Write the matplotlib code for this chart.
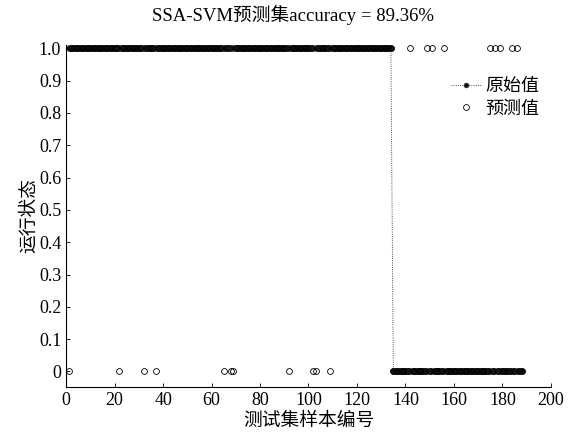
import numpy as np
import matplotlib.pyplot as plt

plt.rcParams['font.family'] = ['Liberation Serif', 'Noto Sans CJK SC']
plt.rcParams['axes.unicode_minus'] = False

# test set: samples 1..134 are state 1, 135..188 are state 0
n_samples = 188
n_ones = 134
# samples where the SSA-SVM prediction is wrong
wrong_as_0 = [1, 22, 32, 37, 65, 68, 69, 92, 102, 103, 109]
wrong_as_1 = [142, 149, 151, 156, 175, 177, 179, 184, 186]

idx = np.arange(1, n_samples + 1)
actual = np.where(idx <= n_ones, 1, 0)
pred = actual.copy()
pred[np.array(wrong_as_0) - 1] = 0
pred[np.array(wrong_as_1) - 1] = 1
acc = np.mean(pred == actual) * 100

fig = plt.figure(figsize=(5.75, 4.33), dpi=100)
ax = fig.add_axes([0.115, 0.107, 0.843, 0.789])

ax.plot(idx, actual, ':', color='#111111', lw=0.6, marker='o', ms=4.2,
        mew=0.4, mec='#333333', label='原始值')
ax.plot(idx, pred, 'o', color='k', mfc='none', ms=4.2, mew=0.6, lw=0, label='预测值')

ax.set_xlim(0, 200)
ax.set_ylim(-0.047, 1.01)
ax.set_xticks(np.arange(0, 201, 20))
ax.set_yticks(np.arange(0, 1.01, 0.1))
ax.set_yticklabels(['0'] + ['%.1f' % v for v in np.arange(0.1, 1.01, 0.1)])
ax.tick_params(direction='in', length=3, width=0.6, labelsize=13)
for s in ['top', 'right']:
    ax.spines[s].set_visible(False)
for s in ['left', 'bottom']:
    ax.spines[s].set_linewidth(0.8)

ax.set_xlabel('测试集样本编号', fontsize=13.5, labelpad=3)
ax.set_ylabel('运行状态', fontsize=13.5, labelpad=1)
fig.text(0.51, 0.965, 'SSA-SVM预测集accuracy = %.2f%%' % acc, fontsize=13.5,
         ha='center', va='center')
leg = ax.legend(loc='upper right', bbox_to_anchor=(1.01, 0.95), frameon=False,
                fontsize=13, handlelength=1.7, handletextpad=0.2, labelspacing=0.3)
leg.legend_handles[0].set_markersize(3.5)

fig.savefig('out.png', dpi=100)
